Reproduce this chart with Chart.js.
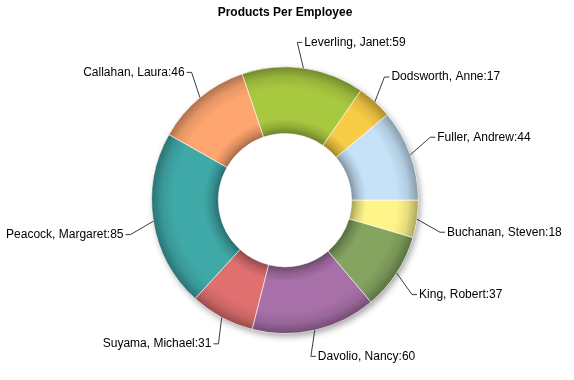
<!DOCTYPE html>
<html>
<head>
<meta charset="utf-8">
<script src="https://cdn.jsdelivr.net/npm/chart.js@4"></script>
<style>
html,body{margin:0;padding:0;background:#fff;}
#wrap{width:574px;height:380px;}
</style>
</head>
<body>
<div id="wrap"><canvas id="c" width="574" height="380"></canvas></div>
<script>
const chartTitle = "Products Per Employee";
const categories = ["Leverling, Janet","Dodsworth, Anne","Fuller, Andrew","Buchanan, Steven","King, Robert","Davolio, Nancy","Suyama, Michael","Peacock, Margaret","Callahan, Laura"];
const productCounts = [59, 17, 44, 18, 37, 60, 31, 85, 46];
const sliceColors = ["#A8C840","#F8CC44","#C6E2F8","#FFF48A","#84A460","#A870A8","#E07070","#3FA9A8","#FFA570"];

function shade(hex, f) {
  const n = parseInt(hex.slice(1), 16);
  let r = (n >> 16) & 255, g = (n >> 8) & 255, b = n & 255;
  if (f < 0) { r *= (1 + f); g *= (1 + f); b *= (1 + f); }
  else { r += (255 - r) * f; g += (255 - g) * f; b += (255 - b) * f; }
  return `rgb(${Math.round(r)},${Math.round(g)},${Math.round(b)})`;
}

const ringDeco = {
  id: 'ringDeco',
  beforeDatasetsDraw(chart) {
    const meta = chart.getDatasetMeta(0);
    const ctx = chart.ctx;
    const a0 = meta.data[0];
    const cx = a0.x, cy = a0.y, R = a0.outerRadius, r = a0.innerRadius;
    ctx.save();
    ctx.shadowColor = 'rgba(0,0,0,0.35)';
    ctx.shadowBlur = 6;
    ctx.shadowOffsetX = 2;
    ctx.shadowOffsetY = 3;
    ctx.fillStyle = '#fff';
    ctx.beginPath();
    ctx.arc(cx, cy, R, 0, Math.PI * 2);
    ctx.fill();
    ctx.restore();
    meta.data.forEach((arc, i) => {
      const c = sliceColors[i];
      const g = ctx.createRadialGradient(cx, cy, r, cx, cy, R);
      g.addColorStop(0, shade(c, -0.35));
      g.addColorStop(0.1, shade(c, -0.15));
      g.addColorStop(0.22, c);
      g.addColorStop(0.68, c);
      g.addColorStop(0.85, shade(c, -0.1));
      g.addColorStop(1, shade(c, -0.32));
      arc.options = Object.assign({}, arc.options, { backgroundColor: g });
    });
  },
  afterDatasetsDraw(chart) {
    const ctx = chart.ctx;
    const meta = chart.getDatasetMeta(0);
    ctx.save();
    ctx.font = '12px "Liberation Sans", Arial, sans-serif';
    ctx.textBaseline = 'middle';
    ctx.strokeStyle = '#3a3a3a';
    ctx.lineWidth = 1;
    ctx.fillStyle = '#000';
    meta.data.forEach((arc, i) => {
      const mid = (arc.startAngle + arc.endAngle) / 2;
      const R = arc.outerRadius;
      const px = arc.x + R * Math.cos(mid), py = arc.y + R * Math.sin(mid);
      let th = mid + Math.PI / 2;
      th -= (3.5 * Math.PI / 180) * Math.sign(Math.sin(2 * th));
      const a2 = th - Math.PI / 2;
      const ex = arc.x + (R + 25) * Math.cos(a2), ey = arc.y + (R + 25) * Math.sin(a2);
      const dir = Math.cos(a2) >= 0 ? 1 : -1;
      const hx = ex + 5 * dir;
      ctx.beginPath();
      ctx.moveTo(px, py);
      ctx.lineTo(ex, ey);
      ctx.lineTo(hx, ey);
      ctx.stroke();
      ctx.textAlign = dir > 0 ? 'left' : 'right';
      ctx.fillText(categories[i] + ':' + productCounts[i], hx + 2 * dir, ey);
    });
    ctx.restore();
  }
};

new Chart(document.getElementById('c'), {
  type: 'doughnut',
  data: {
    labels: categories,
    datasets: [{
      data: productCounts,
      backgroundColor: sliceColors,
      borderColor: 'rgba(255,255,255,0.55)',
      borderWidth: 1,
      hoverOffset: 0
    }]
  },
  options: {
    responsive: false,
    animation: false,
    devicePixelRatio: 1,
    cutout: '50%',
    rotation: -18.8,
    layout: { padding: { left: 151, right: 155, top: 0, bottom: 46 } },
    plugins: {
      legend: { display: false },
      tooltip: { enabled: false },
      title: {
        display: true,
        text: chartTitle,
        color: '#000',
        font: { family: '"Liberation Sans", Arial, sans-serif', size: 12, weight: 'bold' },
        padding: { top: 5, bottom: 47 }
      }
    }
  },
  plugins: [ringDeco]
});
</script>
</body>
</html>
